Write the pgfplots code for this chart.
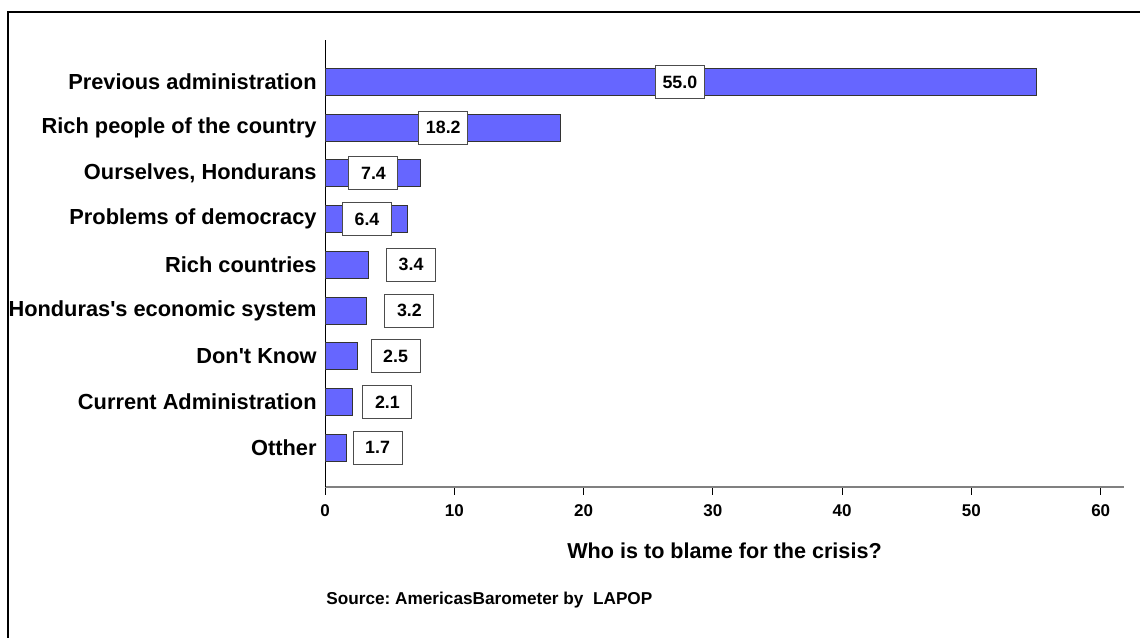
\documentclass[border=0pt]{standalone}
\usepackage{fontspec}
\setmainfont{Liberation Sans}
\usepackage{pgfplots}
\usepackage{pgfplotstable}
\pgfplotsset{compat=1.18}
\definecolor{barblue}{HTML}{6666FF}
\pgfplotstableread{
x y
55.0 8
18.2 7
7.4 6
6.4 5
3.4 4
3.2 3
2.5 2
2.1 1
1.7 0
}\bardata
\pgfplotstableread{
x y label
27.45 8 55.0
9.15 7 18.2
3.75 6 7.4
3.25 5 6.4
6.66 4 3.4
6.53 3 3.2
5.46 2 2.5
4.83 1 2.1
4.07 0 1.7
}\labeldata
\frenchspacing
\begin{document}
\begin{tikzpicture}
\begin{axis}[
  at={(162.5pt,75pt)}, anchor=south west,
  scale only axis, width=399.5pt, height=223.5pt,
  xmin=0, xmax=61.8, ymin=-0.86, ymax=8.92,
  axis x line*=bottom, axis y line*=left,
  x axis line style={-, draw=gray, line width=1pt},
  y axis line style={-, draw=black, line width=0.5pt},
  xtick={0,10,20,30,40,50,60},
  xticklabels={0,10,20,30,40,50,60},
  ytick={0,1,2,3,4,5,6,7,8},
  yticklabels={Otther, Current Administration, Don\textquotesingle t Know, Honduras\textquotesingle s economic system, Rich countries, Problems of democracy, {Ourselves, Hondurans}, Rich people of the country, Previous administration},
  tick align=outside,
  major tick length=4pt,
  xtick style={draw=black, line width=0.5pt},
  ytick style={draw=none},
  xticklabel style={font=\bfseries\fontsize{8.5}{9}\selectfont, anchor=north, yshift=-1.5pt},
  yticklabel style={font=\bfseries\fontsize{10.9}{12}\selectfont, anchor=east, inner sep=0pt, xshift=0pt},
  xlabel={Who is to blame for the crisis?},
  xlabel style={font=\bfseries\fontsize{10.8}{12}\selectfont, at={(axis description cs:0.5,0)}, anchor=center, yshift=-32pt},
  clip=false,
]
\addplot[xbar, bar width=13.5pt, fill=barblue, draw=black!80, line width=0.5pt] table[x=x, y=y] {\bardata};
\addplot[only marks, mark=*, mark size=0pt, mark options={draw=none, fill=none},
  point meta=explicit symbolic,
  nodes near coords,
  every node near coord/.style={anchor=center, draw=black!70, line width=0.5pt, fill=white,
    minimum width=24.5pt, minimum height=16.5pt, inner sep=0pt,
    font=\bfseries\fontsize{8.9}{10}\selectfont, text=black}]
  table[x=x, y=y, meta=label] {\labeldata};
\end{axis}
\node[anchor=west, inner sep=0pt, font=\bfseries\fontsize{8.6}{10}\selectfont] at (163pt,18.5pt) {Source: AmericasBarometer by\ \ LAPOP};
\draw[line width=1pt] (4pt,-20pt) -- (4pt,312.5pt) -- (600pt,312.5pt);
\pgfresetboundingbox
\path[use as bounding box] (0,0) rectangle (570pt,318.5pt);
\end{tikzpicture}
\end{document}
